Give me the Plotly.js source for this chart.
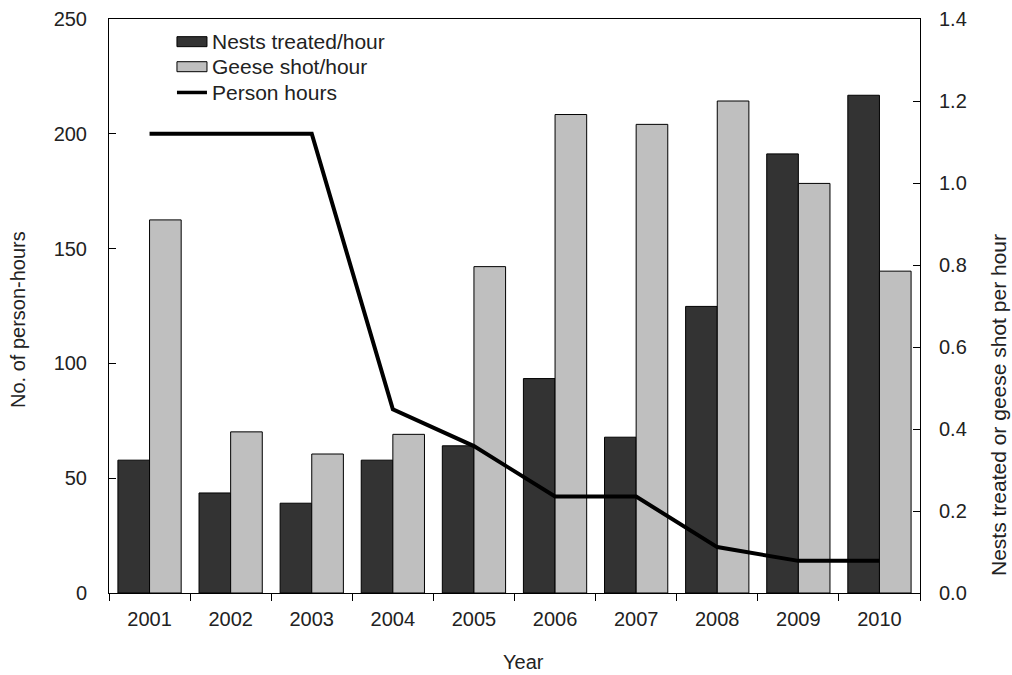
<!DOCTYPE html>
<html>
<head>
<meta charset="utf-8">
<script src="https://cdn.plot.ly/plotly-3.0.1.min.js"></script>
<style>html,body{margin:0;padding:0;background:#fff;}#chart{width:1012px;height:675px;}</style>
</head>
<body>
<div id="chart"></div>
<script>
var years = ['2001','2002','2003','2004','2005','2006','2007','2008','2009','2010'];
var nestsTreated = [0.324, 0.244, 0.219, 0.324, 0.359, 0.523, 0.380, 0.699, 1.071, 1.214];
var geeseShot = [0.910, 0.393, 0.339, 0.387, 0.796, 1.167, 1.143, 1.200, 0.999, 0.785];
var personHours = [200, 200, 200, 80, 64, 42, 42, 20, 14, 14];
var seriesNames = ['Nests treated/hour', 'Geese shot/hour', 'Person hours'];
var axisTitles = {x:'Year', left:'No. of person-hours', right:'Nests treated or geese shot per hour'};

var FONT = 'Liberation Sans, Arial, sans-serif';
var TXT = '#222';
var FS = 20;

var traces = [
  {type:'bar', x:years, y:nestsTreated, name:seriesNames[0], yaxis:'y',
   marker:{color:'#333333', line:{color:'#000', width:1}}},
  {type:'bar', x:years, y:geeseShot, name:seriesNames[1], yaxis:'y',
   marker:{color:'#bfbfbf', line:{color:'#000', width:1}}},
  {type:'scatter', mode:'lines', x:years, y:personHours, name:seriesNames[2], yaxis:'y2',
   line:{color:'#000', width:4}}
];

// legend geometry (paper coords)
var lx0 = 0.0838, lx1 = 0.1208, ltx = 0.1245;
var rows = [0.9605, 0.9169, 0.8720];
var rh = 0.0087;

var annos = seriesNames.map(function(n,i){
  return {xref:'paper', yref:'paper', x:ltx, y:rows[i], xanchor:'left', yanchor:'middle',
          text:n, showarrow:false, font:{family:FONT, size:21, color:TXT}};
});
annos.push({xref:'paper', yref:'paper', x:0.5105, y:-0.1202, xanchor:'center', yanchor:'middle',
  text:axisTitles.x, showarrow:false, font:{family:FONT, size:FS, color:TXT}});
annos.push({xref:'paper', yref:'paper', x:-0.1122, y:0.4756, xanchor:'center', yanchor:'middle', textangle:-90,
  text:axisTitles.left, showarrow:false, font:{family:FONT, size:FS, color:TXT}});
annos.push({xref:'paper', yref:'paper', x:1.0962, y:0.3275, xanchor:'center', yanchor:'middle', textangle:-90,
  text:axisTitles.right, showarrow:false, font:{family:FONT, size:21, color:TXT}});

var layout = {
  width:1012, height:675,
  margin:{l:109, r:92, t:19, b:82},
  paper_bgcolor:'#fff', plot_bgcolor:'#fff',
  showlegend:false,
  barmode:'group', bargap:0.22, bargroupgap:0,
  font:{family:FONT, size:FS, color:TXT},
  xaxis:{
    type:'category', tickson:'boundaries', ticks:'outside', ticklen:7, tickwidth:1, tickcolor:'#000',
    showline:true, linecolor:'#000', linewidth:1, mirror:true, showgrid:false, zeroline:false,
    tickfont:{family:FONT, size:FS, color:TXT}, ticklabelstandoff:8
  },
  yaxis:{
    side:'right', range:[0,1.4], dtick:0.2, tickformat:'.1f',
    ticks:'inside', ticklen:7, tickwidth:1, tickcolor:'#000',
    showline:true, linecolor:'#000', linewidth:1, showgrid:false, zeroline:false,
    tickfont:{family:FONT, size:FS, color:TXT}, ticklabelstandoff:14
  },
  yaxis2:{
    side:'left', overlaying:'y', range:[0,250], dtick:50,
    ticks:'inside', ticklen:7, tickwidth:1, tickcolor:'#000',
    showline:true, linecolor:'#000', linewidth:1, showgrid:false, zeroline:false,
    tickfont:{family:FONT, size:FS, color:TXT}, ticklabelstandoff:17
  },
  shapes:[
    {type:'rect', xref:'paper', yref:'paper', x0:lx0, x1:lx1, y0:rows[0]-rh, y1:rows[0]+rh,
     fillcolor:'#333333', line:{color:'#000', width:1}},
    {type:'rect', xref:'paper', yref:'paper', x0:lx0, x1:lx1, y0:rows[1]-rh, y1:rows[1]+rh,
     fillcolor:'#bfbfbf', line:{color:'#000', width:1}},
    {type:'line', xref:'paper', yref:'paper', x0:lx0, x1:lx1, y0:rows[2], y1:rows[2],
     line:{color:'#000', width:3.5}}
  ],
  annotations: annos
};

Plotly.newPlot('chart', traces, layout, {displayModeBar:false, staticPlot:true});
</script>
</body>
</html>
